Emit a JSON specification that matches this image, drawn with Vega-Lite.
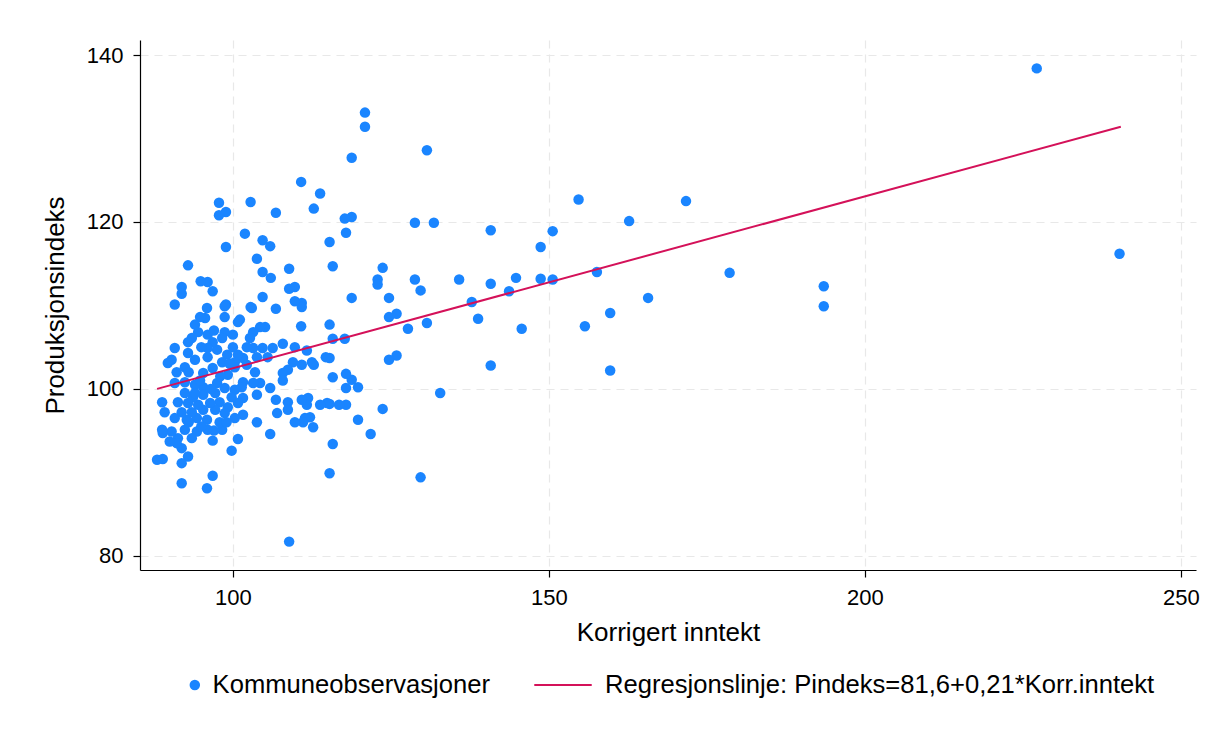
{
  "$schema": "https://vega.github.io/schema/vega-lite/v6.json",
  "width": 1056,
  "height": 530,
  "autosize": {"type": "none"},
  "padding": {"left": 140, "top": 40, "right": 22, "bottom": 164},
  "background": "white",
  "config": {
    "view": {"stroke": null},
    "font": "Liberation Sans",
    "axis": {
      "domainColor": "#000000",
      "domainWidth": 1.2,
      "tickColor": "#000000",
      "tickWidth": 1.2,
      "tickSize": 7,
      "gridColor": "#e8e8e8",
      "gridDash": [8, 6],
      "gridWidth": 1.2,
      "labelFont": "Liberation Sans",
      "labelFontSize": 22,
      "labelColor": "#000000",
      "titleFont": "Liberation Sans",
      "titleFontSize": 26,
      "titleFontWeight": "normal",
      "titleColor": "#000000"
    },
    "legend": {
      "layout": {"bottom": {"anchor": "middle", "direction": "horizontal", "margin": 42, "center": true}}
    }
  },
  "datasets": {
    "pts": [
      {"inntekt": 227.2, "pindeks": 138.4}, {"inntekt": 240.3, "pindeks": 116.2}, {"inntekt": 193.5, "pindeks": 112.3}, {"inntekt": 193.5, "pindeks": 109.9},
      {"inntekt": 178.6, "pindeks": 113.9}, {"inntekt": 171.7, "pindeks": 122.5}, {"inntekt": 165.7, "pindeks": 110.9}, {"inntekt": 162.7, "pindeks": 120.1},
      {"inntekt": 159.7, "pindeks": 109.1}, {"inntekt": 159.7, "pindeks": 102.2}, {"inntekt": 157.6, "pindeks": 114.0}, {"inntekt": 155.7, "pindeks": 107.5},
      {"inntekt": 154.7, "pindeks": 122.7}, {"inntekt": 150.6, "pindeks": 118.9}, {"inntekt": 150.6, "pindeks": 113.1}, {"inntekt": 148.7, "pindeks": 117.0},
      {"inntekt": 148.7, "pindeks": 113.2}, {"inntekt": 145.7, "pindeks": 107.2}, {"inntekt": 144.8, "pindeks": 113.3}, {"inntekt": 143.7, "pindeks": 111.7},
      {"inntekt": 140.8, "pindeks": 119.0}, {"inntekt": 140.8, "pindeks": 112.6}, {"inntekt": 140.8, "pindeks": 102.8}, {"inntekt": 138.8, "pindeks": 108.4},
      {"inntekt": 137.8, "pindeks": 110.4}, {"inntekt": 135.8, "pindeks": 113.1}, {"inntekt": 132.8, "pindeks": 99.5}, {"inntekt": 131.8, "pindeks": 119.9},
      {"inntekt": 130.7, "pindeks": 128.6}, {"inntekt": 130.7, "pindeks": 107.9}, {"inntekt": 129.7, "pindeks": 111.8}, {"inntekt": 129.7, "pindeks": 89.4},
      {"inntekt": 128.8, "pindeks": 119.9}, {"inntekt": 128.8, "pindeks": 113.1}, {"inntekt": 127.7, "pindeks": 107.2}, {"inntekt": 125.9, "pindeks": 109.0},
      {"inntekt": 125.9, "pindeks": 104.0}, {"inntekt": 124.7, "pindeks": 110.9}, {"inntekt": 124.7, "pindeks": 108.6}, {"inntekt": 124.7, "pindeks": 103.5},
      {"inntekt": 123.7, "pindeks": 114.5}, {"inntekt": 123.7, "pindeks": 97.6}, {"inntekt": 122.9, "pindeks": 113.1}, {"inntekt": 122.9, "pindeks": 112.5},
      {"inntekt": 121.8, "pindeks": 94.6}, {"inntekt": 120.9, "pindeks": 133.1}, {"inntekt": 120.9, "pindeks": 131.4}, {"inntekt": 119.8, "pindeks": 100.2},
      {"inntekt": 119.8, "pindeks": 96.3}, {"inntekt": 118.8, "pindeks": 127.7}, {"inntekt": 118.8, "pindeks": 120.6}, {"inntekt": 118.8, "pindeks": 110.9},
      {"inntekt": 118.8, "pindeks": 101.1}, {"inntekt": 117.9, "pindeks": 118.7}, {"inntekt": 117.9, "pindeks": 101.8}, {"inntekt": 117.9, "pindeks": 100.1},
      {"inntekt": 117.9, "pindeks": 98.1}, {"inntekt": 117.7, "pindeks": 120.4}, {"inntekt": 117.7, "pindeks": 106.0}, {"inntekt": 116.8, "pindeks": 98.1},
      {"inntekt": 115.8, "pindeks": 114.7}, {"inntekt": 115.8, "pindeks": 106.0}, {"inntekt": 115.8, "pindeks": 101.4}, {"inntekt": 115.8, "pindeks": 93.4},
      {"inntekt": 115.3, "pindeks": 117.6}, {"inntekt": 115.3, "pindeks": 107.7}, {"inntekt": 115.3, "pindeks": 103.7}, {"inntekt": 115.3, "pindeks": 98.2},
      {"inntekt": 115.3, "pindeks": 89.9}, {"inntekt": 114.9, "pindeks": 98.3}, {"inntekt": 114.7, "pindeks": 103.8}, {"inntekt": 113.8, "pindeks": 123.4},
      {"inntekt": 113.8, "pindeks": 98.1}, {"inntekt": 112.8, "pindeks": 121.6}, {"inntekt": 112.8, "pindeks": 102.9}, {"inntekt": 112.7, "pindeks": 95.4},
      {"inntekt": 112.5, "pindeks": 103.2}, {"inntekt": 112.2, "pindeks": 96.6}, {"inntekt": 111.9, "pindeks": 98.9}, {"inntekt": 111.7, "pindeks": 104.6},
      {"inntekt": 111.7, "pindeks": 98.1}, {"inntekt": 111.4, "pindeks": 96.5}, {"inntekt": 111.1, "pindeks": 96.0}, {"inntekt": 110.9, "pindeks": 110.3},
      {"inntekt": 110.9, "pindeks": 109.8}, {"inntekt": 110.9, "pindeks": 102.9}, {"inntekt": 110.9, "pindeks": 98.7}, {"inntekt": 110.8, "pindeks": 124.8},
      {"inntekt": 110.8, "pindeks": 107.5}, {"inntekt": 109.8, "pindeks": 112.2}, {"inntekt": 109.8, "pindeks": 110.5}, {"inntekt": 109.8, "pindeks": 105.0},
      {"inntekt": 109.8, "pindeks": 96.0}, {"inntekt": 109.5, "pindeks": 103.2}, {"inntekt": 108.9, "pindeks": 114.4}, {"inntekt": 108.9, "pindeks": 112.0},
      {"inntekt": 108.9, "pindeks": 81.7}, {"inntekt": 108.7, "pindeks": 102.3}, {"inntekt": 108.7, "pindeks": 98.4}, {"inntekt": 108.7, "pindeks": 97.5},
      {"inntekt": 107.9, "pindeks": 105.4}, {"inntekt": 107.9, "pindeks": 101.9}, {"inntekt": 107.9, "pindeks": 101.0}, {"inntekt": 107.0, "pindeks": 97.1},
      {"inntekt": 106.8, "pindeks": 121.1}, {"inntekt": 106.8, "pindeks": 109.6}, {"inntekt": 106.8, "pindeks": 98.7}, {"inntekt": 106.3, "pindeks": 104.9},
      {"inntekt": 106.0, "pindeks": 113.3}, {"inntekt": 105.9, "pindeks": 117.1}, {"inntekt": 105.9, "pindeks": 100.1}, {"inntekt": 105.9, "pindeks": 94.6},
      {"inntekt": 105.5, "pindeks": 103.8}, {"inntekt": 105.1, "pindeks": 107.4}, {"inntekt": 104.7, "pindeks": 117.8}, {"inntekt": 104.7, "pindeks": 114.0},
      {"inntekt": 104.7, "pindeks": 111.0}, {"inntekt": 104.7, "pindeks": 104.9}, {"inntekt": 104.3, "pindeks": 107.4}, {"inntekt": 104.3, "pindeks": 100.7},
      {"inntekt": 103.8, "pindeks": 115.6}, {"inntekt": 103.8, "pindeks": 103.8}, {"inntekt": 103.8, "pindeks": 99.3}, {"inntekt": 103.8, "pindeks": 96.0},
      {"inntekt": 103.5, "pindeks": 102.0}, {"inntekt": 103.2, "pindeks": 106.8}, {"inntekt": 103.2, "pindeks": 104.9}, {"inntekt": 103.2, "pindeks": 100.7},
      {"inntekt": 103.0, "pindeks": 109.7}, {"inntekt": 102.8, "pindeks": 122.4}, {"inntekt": 102.8, "pindeks": 109.8}, {"inntekt": 102.7, "pindeks": 106.1},
      {"inntekt": 102.2, "pindeks": 105.0}, {"inntekt": 102.2, "pindeks": 102.9}, {"inntekt": 101.9, "pindeks": 118.6}, {"inntekt": 101.6, "pindeks": 103.7},
      {"inntekt": 101.6, "pindeks": 100.8}, {"inntekt": 101.6, "pindeks": 98.9}, {"inntekt": 101.6, "pindeks": 96.9}, {"inntekt": 101.4, "pindeks": 100.2},
      {"inntekt": 101.1, "pindeks": 108.3}, {"inntekt": 100.8, "pindeks": 108.0}, {"inntekt": 100.8, "pindeks": 104.1}, {"inntekt": 100.8, "pindeks": 98.3},
      {"inntekt": 100.8, "pindeks": 94.0}, {"inntekt": 100.3, "pindeks": 103.2}, {"inntekt": 100.3, "pindeks": 102.6}, {"inntekt": 100.3, "pindeks": 99.9},
      {"inntekt": 100.3, "pindeks": 96.5}, {"inntekt": 100.0, "pindeks": 106.5}, {"inntekt": 100.0, "pindeks": 105.0}, {"inntekt": 99.8, "pindeks": 99.0},
      {"inntekt": 99.8, "pindeks": 92.6}, {"inntekt": 99.2, "pindeks": 101.7}, {"inntekt": 99.2, "pindeks": 97.8}, {"inntekt": 99.1, "pindeks": 104.1},
      {"inntekt": 98.9, "pindeks": 121.2}, {"inntekt": 98.9, "pindeks": 117.0}, {"inntekt": 98.9, "pindeks": 110.1}, {"inntekt": 98.7, "pindeks": 109.9},
      {"inntekt": 98.7, "pindeks": 108.6}, {"inntekt": 98.7, "pindeks": 106.8}, {"inntekt": 98.7, "pindeks": 100.1}, {"inntekt": 98.7, "pindeks": 97.1},
      {"inntekt": 98.3, "pindeks": 106.1}, {"inntekt": 98.3, "pindeks": 103.2}, {"inntekt": 98.3, "pindeks": 95.1}, {"inntekt": 97.9, "pindeks": 98.4},
      {"inntekt": 97.9, "pindeks": 96.0}, {"inntekt": 97.8, "pindeks": 122.3}, {"inntekt": 97.8, "pindeks": 120.8}, {"inntekt": 97.5, "pindeks": 104.7},
      {"inntekt": 97.5, "pindeks": 100.7}, {"inntekt": 97.2, "pindeks": 99.5}, {"inntekt": 97.2, "pindeks": 97.5}, {"inntekt": 96.8, "pindeks": 111.7},
      {"inntekt": 96.8, "pindeks": 105.6}, {"inntekt": 96.8, "pindeks": 102.5}, {"inntekt": 96.8, "pindeks": 93.8}, {"inntekt": 96.8, "pindeks": 89.6},
      {"inntekt": 96.4, "pindeks": 98.3}, {"inntekt": 96.0, "pindeks": 112.8}, {"inntekt": 96.0, "pindeks": 106.5}, {"inntekt": 96.0, "pindeks": 104.9},
      {"inntekt": 96.0, "pindeks": 103.8}, {"inntekt": 96.0, "pindeks": 95.1}, {"inntekt": 95.9, "pindeks": 109.7}, {"inntekt": 95.9, "pindeks": 96.3},
      {"inntekt": 95.9, "pindeks": 88.1}, {"inntekt": 95.6, "pindeks": 108.5}, {"inntekt": 95.3, "pindeks": 101.9}, {"inntekt": 95.3, "pindeks": 100.2},
      {"inntekt": 95.3, "pindeks": 99.3}, {"inntekt": 95.3, "pindeks": 97.5}, {"inntekt": 94.9, "pindeks": 112.9}, {"inntekt": 94.8, "pindeks": 108.6},
      {"inntekt": 94.5, "pindeks": 106.8}, {"inntekt": 94.5, "pindeks": 98.1}, {"inntekt": 94.3, "pindeks": 96.5}, {"inntekt": 94.3, "pindeks": 94.9},
      {"inntekt": 94.0, "pindeks": 107.7}, {"inntekt": 94.0, "pindeks": 103.5}, {"inntekt": 94.0, "pindeks": 100.5}, {"inntekt": 93.7, "pindeks": 99.0},
      {"inntekt": 93.5, "pindeks": 106.1}, {"inntekt": 93.5, "pindeks": 97.2}, {"inntekt": 93.5, "pindeks": 94.1}, {"inntekt": 92.9, "pindeks": 114.8},
      {"inntekt": 92.9, "pindeks": 105.6}, {"inntekt": 92.9, "pindeks": 104.3}, {"inntekt": 92.9, "pindeks": 98.3}, {"inntekt": 92.9, "pindeks": 91.9},
      {"inntekt": 92.7, "pindeks": 96.3}, {"inntekt": 92.4, "pindeks": 102.6}, {"inntekt": 92.4, "pindeks": 100.8}, {"inntekt": 92.4, "pindeks": 99.5},
      {"inntekt": 92.4, "pindeks": 95.1}, {"inntekt": 91.9, "pindeks": 112.2}, {"inntekt": 91.9, "pindeks": 111.4}, {"inntekt": 91.9, "pindeks": 97.2},
      {"inntekt": 91.9, "pindeks": 92.9}, {"inntekt": 91.9, "pindeks": 91.1}, {"inntekt": 91.9, "pindeks": 88.7}, {"inntekt": 91.3, "pindeks": 98.4},
      {"inntekt": 91.3, "pindeks": 94.1}, {"inntekt": 91.1, "pindeks": 102.0}, {"inntekt": 91.1, "pindeks": 93.5}, {"inntekt": 90.8, "pindeks": 110.1},
      {"inntekt": 90.8, "pindeks": 104.9}, {"inntekt": 90.8, "pindeks": 100.7}, {"inntekt": 90.8, "pindeks": 96.5}, {"inntekt": 90.3, "pindeks": 103.5},
      {"inntekt": 90.3, "pindeks": 94.9}, {"inntekt": 90.0, "pindeks": 93.7}, {"inntekt": 89.7, "pindeks": 103.1}, {"inntekt": 89.2, "pindeks": 97.2},
      {"inntekt": 88.9, "pindeks": 94.7}, {"inntekt": 88.9, "pindeks": 91.6}, {"inntekt": 88.8, "pindeks": 98.4}, {"inntekt": 88.8, "pindeks": 95.1},
      {"inntekt": 88.0, "pindeks": 91.5},
      {"inntekt": 95.0, "pindeks": 105.0}, {"inntekt": 97.0, "pindeks": 107.0}, {"inntekt": 99.5, "pindeks": 103.0}, {"inntekt": 93.0, "pindeks": 102.0},
      {"inntekt": 94.8, "pindeks": 101.0}, {"inntekt": 96.5, "pindeks": 100.0}, {"inntekt": 98.0, "pindeks": 101.5}, {"inntekt": 93.0, "pindeks": 96.0},
      {"inntekt": 95.0, "pindeks": 95.5}, {"inntekt": 97.0, "pindeks": 95.0}, {"inntekt": 99.0, "pindeks": 96.0}, {"inntekt": 94.0, "pindeks": 99.5}
    ],
    "reg": [
      {"inntekt": 88.0, "pindeks": 100.0},
      {"inntekt": 240.5, "pindeks": 131.4}
    ]
  },
  "layer": [
    {
      "data": {"name": "pts"},
      "mark": {"type": "point", "filled": true, "opacity": 1, "size": 110, "strokeWidth": 0},
      "encoding": {
        "x": {
          "field": "inntekt", "type": "quantitative",
          "scale": {"domain": [85.3, 252.4], "nice": false, "zero": false},
          "axis": {"values": [100, 150, 200, 250], "title": "Korrigert inntekt", "labelPadding": 10, "titlePadding": 11}
        },
        "y": {
          "field": "pindeks", "type": "quantitative",
          "scale": {"domain": [78.3, 141.8], "nice": false, "zero": false},
          "axis": {"values": [80, 100, 120, 140], "title": "Produksjonsindeks", "labelPadding": 10, "titlePadding": 18}
        },
        "fill": {
          "datum": "Kommuneobservasjoner",
          "type": "nominal",
          "scale": {"range": ["#1a85ff"]},
          "legend": {"orient": "bottom", "title": null, "labelFontSize": 25.6, "labelFont": "Liberation Sans", "labelColor": "#000000", "labelLimit": 0, "symbolSize": 110, "symbolType": "circle", "labelOffset": 5, "offset": 26, "clipHeight": 28}
        }
      }
    },
    {
      "data": {"name": "reg"},
      "mark": {"type": "line", "strokeWidth": 2},
      "encoding": {
        "x": {"field": "inntekt", "type": "quantitative"},
        "y": {"field": "pindeks", "type": "quantitative"},
        "stroke": {
          "datum": "Regresjonslinje: Pindeks=81,6+0,21*Korr.inntekt",
          "type": "nominal",
          "scale": {"range": ["#d41159"]},
          "legend": {"orient": "bottom", "title": null, "labelFontSize": 25.6, "labelFont": "Liberation Sans", "labelColor": "#000000", "labelLimit": 0, "symbolType": "stroke", "symbolSize": 3300, "symbolStrokeWidth": 2, "labelOffset": 12, "offset": 26, "clipHeight": 28}
        }
      }
    }
  ]
}
